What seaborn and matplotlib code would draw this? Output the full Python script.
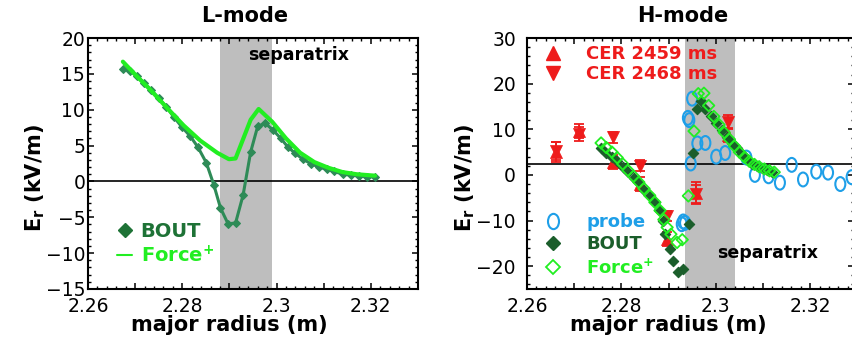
import numpy as np
import matplotlib
matplotlib.use("Agg")
import matplotlib.pyplot as plt
import seaborn as sns
from matplotlib.lines import Line2D
from matplotlib.path import Path
from matplotlib.ticker import MultipleLocator, FuncFormatter

# --- L-mode data ---
l_bout_r = [2.2674, 2.2689, 2.2704, 2.2719, 2.2733, 2.2750, 2.2766, 2.2782, 2.2799,
            2.2817, 2.2833, 2.2851, 2.2867, 2.2881, 2.2897, 2.2913, 2.2929, 2.2945,
            2.2960, 2.2976, 2.2992, 2.3009, 2.3024, 2.3040, 2.3056, 2.3072, 2.3090,
            2.3106, 2.3122, 2.3140, 2.3157, 2.3175, 2.3192, 2.3209]
l_bout_er = [15.7, 15.4, 14.7, 13.7, 12.8, 11.6, 10.4, 9.0, 7.6,
             6.3, 4.8, 2.6, -0.5, -3.7, -5.9, -5.8, -1.9, 4.1,
             7.7, 8.1, 7.2, 6.0, 4.8, 3.9, 3.1, 2.5, 2.0,
             1.7, 1.4, 1.0, 0.9, 0.75, 0.66, 0.66]
l_force_r = [2.2674, 2.2703, 2.2732, 2.2767, 2.2803, 2.2838, 2.2874, 2.2899, 2.2913,
             2.2945, 2.2962, 2.2991, 2.3020, 2.3050, 2.3080, 2.3110, 2.3140, 2.3170, 2.3209]
l_force_er = [16.7, 14.7, 12.8, 10.3, 7.8, 5.7, 4.0, 3.1, 3.2,
              8.6, 10.1, 8.3, 6.0, 4.0, 2.7, 1.9, 1.3, 1.0, 0.8]

# --- H-mode data ---
cer_r = [2.2661, 2.2710, 2.2782, 2.2840, 2.2897, 2.2958, 2.3026]
cer2459_er = [5.0, 9.6, 2.8, -2.0, -14.0, -4.0, 8.8]
cer2459_err = [2.2, 1.6, 1.6, 1.5, 1.5, 2.4, 1.5]
cer2468_er = [5.3, 9.0, 8.3, 2.0, -9.0, -4.2, 11.6]
cer2468_err = [2.0, 1.5, 1.2, 1.2, 1.2, 2.0, 1.5]

probe_r = [2.2928, 2.2931, 2.2935, 2.2941, 2.2944, 2.2947, 2.2950, 2.2961, 2.2978,
           2.3001, 2.3020, 2.3065, 2.3083, 2.3112, 2.3136, 2.3161, 2.3185, 2.3213,
           2.3238, 2.3264, 2.3288]
probe_er = [-10.8, -10.2, -10.5, 12.5, 12.0, 2.5, 16.7, 6.9, 7.0,
            4.0, 4.8, 3.8, 0.0, -0.3, -1.7, 2.2, -1.0, 0.7,
            0.5, -2.0, -0.5]

h_bout_r = [2.2757, 2.2768, 2.2780, 2.2791, 2.2803, 2.2814, 2.2826, 2.2837, 2.2848,
            2.2860, 2.2871, 2.2880, 2.2889, 2.2893, 2.2903, 2.2909, 2.2920, 2.2931,
            2.2943, 2.2952, 2.2961, 2.2968, 2.2978, 2.2990, 2.3001, 2.3013, 2.3024,
            2.3035, 2.3045, 2.3056, 2.3066, 2.3076, 2.3087, 2.3098, 2.3108, 2.3119]
h_bout_er = [5.8, 4.9, 4.0, 3.0, 1.8, 0.6, -0.6, -1.8, -3.2,
             -4.6, -6.0, -7.6, -10.1, -13.0, -16.2, -18.8, -21.2, -20.6,
             -10.7, 4.9, 14.5, 16.3, 14.5, 13.0, 11.4, 9.8, 8.3,
             6.9, 5.8, 4.6, 3.4, 2.5, 2.0, 1.5, 1.1, 0.7]
h_force_r = [2.2757, 2.2768, 2.2780, 2.2791, 2.2803, 2.2814, 2.2826, 2.2837, 2.2848,
             2.2860, 2.2871, 2.2882, 2.2890, 2.2897, 2.2905, 2.2918, 2.2929, 2.2942,
             2.2954, 2.2963, 2.2975, 2.2985, 2.2996, 2.3007, 2.3018, 2.3029, 2.3040,
             2.3050, 2.3061, 2.3071, 2.3082, 2.3092, 2.3103, 2.3114, 2.3124]
h_force_er = [7.0, 6.0, 5.0, 3.8, 2.4, 1.0, -0.3, -1.6, -3.0,
              -4.5, -6.0, -7.8, -9.8, -11.5, -13.0, -14.8, -14.2, -4.6,
              9.6, 17.8, 17.9, 15.2, 12.8, 11.0, 9.3, 7.8, 6.3,
              5.0, 3.9, 3.0, 2.3, 1.8, 1.3, 0.9, 0.6]

sep_l = (2.2881, 2.2991)
sep_h = (2.2934, 2.3040)

# colours
c_bout_l = "#2E8B57"
c_bout_txt = "#1E7236"
c_force = "#22EE22"
c_bout_h = "#1B5E2B"
c_probe = "#1E9FE8"
c_red = "#EE1C1C"
c_band = "#BEBEBE"

sns.set_theme(style="ticks")
plt.rcParams["font.family"] = ["DejaVu Sans"]
plt.rcParams["mathtext.default"] = "regular"
for key in ["text.color", "axes.labelcolor", "xtick.color", "ytick.color", "axes.edgecolor"]:
    plt.rcParams[key] = "black"

fig = plt.figure(figsize=(8.53, 3.47), dpi=100)
ax1 = fig.add_axes([88 / 853, 58 / 347, 330 / 853, 251 / 347])
ax2 = fig.add_axes([527 / 853, 58 / 347, 327 / 853, 251 / 347])

# ellipse marker for probe
circ = Path.unit_circle()
ellipse = Path(circ.vertices * np.array([0.72, 1.0]), circ.codes)


def xfmt(v, pos):
    k = int(round(v * 100))
    return f"{round(v, 2):g}" if k % 2 == 0 else ""


for ax in (ax1, ax2):
    ax.xaxis.set_major_locator(MultipleLocator(0.01))
    ax.xaxis.set_minor_locator(MultipleLocator(0.002))
    ax.xaxis.set_major_formatter(FuncFormatter(xfmt))
    ax.tick_params(which="both", direction="in", top=True, right=True, labelsize=13.5,
                   color="black", labelcolor="black")
    ax.tick_params(which="major", length=4.5, width=1.1)
    ax.tick_params(which="minor", length=2.3, width=1.0)
    ax.tick_params(axis="x", pad=6)
    for s in ax.spines.values():
        s.set_linewidth(1.5)
        s.set_color("black")

# ---------------- L-mode ----------------
ax1.axvspan(*sep_l, color=c_band, lw=0, zorder=0)
ax1.axhline(0, color="black", lw=1.2, zorder=1)
sns.lineplot(x=l_bout_r, y=l_bout_er, color=c_bout_l, marker="D", markersize=4.5,
             markeredgecolor=c_bout_l, linewidth=2.2, sort=False, errorbar=None, ax=ax1, zorder=2)
sns.lineplot(x=l_force_r, y=l_force_er, color=c_force, linewidth=3, sort=False,
             errorbar=None, ax=ax1, zorder=3)
ax1.set_xlim(2.26, 2.33)
ax1.set_ylim(-15, 20)
ax1.yaxis.set_major_locator(MultipleLocator(5))
ax1.yaxis.set_minor_locator(MultipleLocator(1))
ax1.tick_params(axis="y", pad=2)
ax1.text(2.3046, 17.6, "separatrix", ha="center", va="center", fontsize=12.5, fontweight="bold")
ax1.set_title("L-mode", fontsize=15, fontweight="bold", x=0.476, pad=11.5)
ax1.set_xlabel("major radius (m)", fontsize=15, fontweight="bold")
ax1.set_ylabel("E$_{r}$ (kV/m)", fontsize=15, fontweight="bold")
ax1.xaxis.set_label_coords(0.427, -0.105)
ax1.yaxis.set_label_coords(-0.124, 0.442)
hl = [Line2D([], [], ls="none", marker="D", color=c_bout_txt, ms=7),
      Line2D([], [], color=c_force, lw=1.5)]
ax1.legend(hl, ["BOUT", "Force$^{+}$"], loc="upper left", bbox_to_anchor=(0.089, 0.267),
           frameon=False, handlelength=0.75, handletextpad=0.45, borderpad=0,
           borderaxespad=0, labelspacing=0.2, labelcolor=[c_bout_txt, c_force],
           prop={"weight": "bold", "size": 14})

# ---------------- H-mode ----------------
ax2.axvspan(*sep_h, color=c_band, lw=0, zorder=0)
ax2.axhline(2.5, color="black", lw=1.2, zorder=1)
ax2.errorbar(cer_r, cer2459_er, yerr=cer2459_err, fmt="none", ecolor=c_red,
             elinewidth=1.3, capsize=3.5, capthick=1.3, zorder=2)
ax2.errorbar(cer_r, cer2468_er, yerr=cer2468_err, fmt="none", ecolor=c_red,
             elinewidth=1.3, capsize=3.5, capthick=1.3, zorder=2)
sns.scatterplot(x=cer_r, y=cer2459_er, marker="^", s=75, color=c_red, edgecolor=c_red,
                linewidth=0.5, ax=ax2, zorder=2)
sns.scatterplot(x=cer_r, y=cer2468_er, marker="v", s=75, color=c_red, edgecolor=c_red,
                linewidth=0.5, ax=ax2, zorder=2)
sns.scatterplot(x=probe_r, y=probe_er, marker=ellipse, s=100, facecolor="none",
                edgecolor=c_probe, linewidth=1.5, ax=ax2, zorder=3)
sns.scatterplot(x=h_bout_r, y=h_bout_er, marker="D", s=28, color=c_bout_h,
                edgecolor=c_bout_h, linewidth=0.8, ax=ax2, zorder=4)
sns.scatterplot(x=h_force_r, y=h_force_er, marker="D", s=34, facecolor="none",
                edgecolor=c_force, linewidth=1.3, ax=ax2, zorder=5)
ax2.set_xlim(2.26, 2.3293)
ax2.set_ylim(-25, 30)
ax2.yaxis.set_major_locator(MultipleLocator(10))
ax2.yaxis.set_minor_locator(MultipleLocator(2))
ax2.tick_params(axis="y", pad=8)
ax2.text(2.3110, -17.1, "separatrix", ha="center", va="center", fontsize=12.5, fontweight="bold")
ax2.set_title("H-mode", fontsize=15, fontweight="bold", x=0.4755, pad=11.5)
ax2.set_xlabel("major radius (m)", fontsize=15, fontweight="bold")
ax2.set_ylabel("E$_{r}$ (kV/m)", fontsize=15, fontweight="bold")
ax2.xaxis.set_label_coords(0.431, -0.105)
ax2.yaxis.set_label_coords(-0.153, 0.444)

h_top = [Line2D([], [], ls="none", marker="^", color=c_red, ms=10),
         Line2D([], [], ls="none", marker="v", color=c_red, ms=10)]
leg_top = ax2.legend(h_top, ["CER 2459 ms", "CER 2468 ms"], loc="upper left",
                     bbox_to_anchor=(0.035, 0.972), frameon=False, handlelength=1.6,
                     handletextpad=1.05, borderpad=0, borderaxespad=0, labelspacing=0.1,
                     labelcolor=[c_red, c_red], prop={"weight": "bold", "size": 13})
ax2.add_artist(leg_top)
h_bot = [Line2D([], [], ls="none", marker=ellipse, mfc="none", mec=c_probe, mew=1.5, ms=11),
         Line2D([], [], ls="none", marker="D", color=c_bout_h, ms=7),
         Line2D([], [], ls="none", marker="D", mfc="none", mec=c_force, mew=1.3, ms=7)]
ax2.legend(h_bot, ["probe", "BOUT", "Force$^{+}$"], loc="upper left",
           bbox_to_anchor=(0.035, 0.303), frameon=False, handlelength=1.6,
           handletextpad=1.05, borderpad=0, borderaxespad=0, labelspacing=0.25,
           labelcolor=[c_probe, c_bout_h, c_force], prop={"weight": "bold", "size": 13})

fig.savefig("out.png", dpi=100)
